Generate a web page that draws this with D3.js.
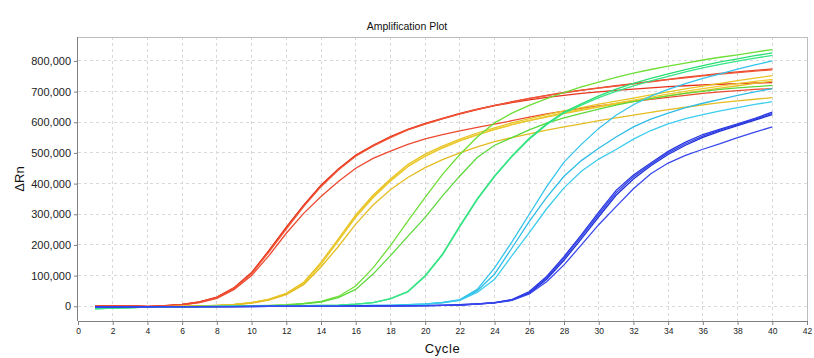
<!DOCTYPE html>
<html><head><meta charset="utf-8">
<script src="https://cdn.jsdelivr.net/npm/d3@7"></script>
<style>
html,body{margin:0;padding:0;background:#fff;}
text{font-family:"Liberation Sans",Arial,sans-serif;}
</style></head>
<body><div id="chart"></div>
<script>
// ---- data (ΔRn, thousands) ----
const cycles = d3.range(1, 41);
const xTicks = d3.range(0, 43, 2);
const yTicks = [0,100000,200000,300000,400000,500000,600000,700000,800000];
const chartTitle = "Amplification Plot";
const xLabel = "Cycle";
const yLabel = "ΔRn";

const red1 = [2,2,2,0,2,6,14,29,60,108,180,255,328,393,447,492,525,553,577,596,613,629,643,655,667,678,688,697,705,712,719,726,733,740,747,753,759,764,769,774];
const red2 = [1,2,1,0,2,6,14,30,61,110,182,258,330,395,448,492,524,552,576,595,612,627,641,654,664,673,681,688,694,699,704,708,712,716,719,722,724,726,728,729];
const red3 = [2,1,2,-1,1,5,13,28,59,106,177,252,325,390,444,489,522,550,575,594,611,627,642,654,666,677,687,696,704,711,718,725,732,739,745,751,757,762,767,771];
const red4 = [1,1,1,-1,1,5,12,26,55,100,165,238,303,358,407,450,482,506,528,546,560,572,583,594,605,617,627,636,645,653,661,668,675,681,688,694,699,703,707,710];
const yel1 = [-2,-2,-1,-2,-1,0,1,3,6,12,23,42,78,143,220,298,362,415,462,496,522,545,565,582,598,612,625,637,648,659,669,679,689,699,709,718,727,736,744,752];
const yel2 = [-2,-1,-1,-2,-1,0,1,3,6,12,22,41,76,140,216,293,357,410,456,490,517,540,560,577,592,605,617,628,639,649,659,668,677,686,695,703,711,719,727,734];
const yel3 = [-1,-2,-1,-1,-1,0,1,2,5,11,22,40,74,137,213,290,354,408,455,489,516,539,559,576,592,606,619,631,642,652,662,672,682,692,701,710,718,726,733,740];
const yel4 = [-1,-1,-1,-1,-1,0,1,2,5,10,20,38,70,128,195,268,330,380,420,452,478,500,520,537,550,562,574,585,595,605,614,623,632,641,649,657,664,670,675,680];
const grn1 = [-5,-4,-3,-2,-2,-1,0,0,1,2,3,5,9,16,32,66,125,198,278,355,430,495,552,598,630,655,677,697,715,731,746,760,772,783,793,803,812,820,829,837];
const grn2 = [-6,-5,-4,-3,-2,-1,0,0,1,1,2,4,8,14,28,55,105,165,228,290,360,425,485,525,550,575,597,614,629,643,656,667,677,686,694,701,707,712,716,720];
const tel1 = [-8,-6,-4,-3,-2,-2,-1,-1,0,0,1,1,2,3,4,7,12,25,48,100,170,262,350,425,490,548,595,633,660,686,708,727,743,758,772,785,797,807,817,826];
const tel2 = [-8,-6,-5,-3,-2,-2,-1,-1,0,0,1,1,2,3,4,7,12,24,47,98,168,260,348,423,488,545,592,630,656,680,701,719,735,750,764,777,789,799,809,818];
const cyn1 = [-3,-3,-2,-2,-2,-1,-1,0,0,0,1,1,1,2,2,2,3,3,5,8,13,22,55,125,210,300,390,470,528,580,623,657,685,707,726,743,758,773,787,800];
const cyn2 = [-3,-2,-2,-2,-1,-1,-1,0,0,0,1,1,1,2,2,2,3,3,5,7,12,20,50,105,190,277,355,424,475,515,552,585,610,630,648,662,675,688,699,710];
const cyn3 = [-4,-3,-2,-2,-2,-1,-1,0,0,0,0,1,1,1,2,2,2,3,4,7,11,19,45,88,165,240,318,386,440,480,511,545,573,595,612,625,637,648,658,667];
const blu1 = [-2,-2,-2,-1,-1,-1,-1,-1,-1,0,0,0,0,0,0,1,1,1,2,2,3,5,8,12,22,48,97,162,233,307,378,428,467,505,535,560,578,595,613,633];
const blu2 = [-2,-2,-1,-1,-1,-1,-1,-1,-1,0,0,0,0,0,0,1,1,1,2,2,3,5,8,12,21,45,93,157,227,300,370,422,463,500,530,555,575,592,610,629];
const blu3 = [-2,-2,-2,-1,-1,-1,-1,-1,-1,-1,0,0,0,0,0,0,1,1,1,2,3,4,7,11,20,42,88,150,220,292,362,415,458,495,525,551,571,589,607,625];
const blu4 = [-2,-2,-2,-2,-1,-1,-1,-1,-1,-1,0,0,0,0,0,0,1,1,1,2,3,4,7,11,19,40,80,135,200,266,325,383,432,467,492,512,530,550,568,585];

const seriesList = [red1,red2,red3,red4,yel1,yel2,yel3,yel4,grn1,grn2,tel1,tel2,cyn1,cyn2,cyn3,blu1,blu2,blu3,blu4];
const seriesColors = ["#e8402a","#e6321c","#f05838","#ec4a30","#e8c424","#e6c02a","#eccc30","#e4bc22","#6ede36","#5cd83a","#28e070","#38e488","#34c4ec","#30bce6","#3ccced","#2a38e0","#3444ea","#2030d6","#3848ee"];

// ---- drawing ----
const W = 814, H = 358;
const m = {left:78, top:37, right:7, bottom:37};
const svg = d3.select("#chart").append("svg").attr("width", W).attr("height", H);
const x = d3.scaleLinear().domain([0, 42]).range([m.left, W - m.right]);
const y = d3.scaleLinear().domain([-48000, 878000]).range([H - m.bottom, m.top]);

// grid
const g = svg.append("g");
g.selectAll("line.vg").data(xTicks.filter(d => d > 0 && d < 42)).join("line")
  .attr("x1", d => x(d)).attr("x2", d => x(d)).attr("y1", m.top).attr("y2", H - m.bottom)
  .attr("stroke", "#d9d9d9").attr("stroke-dasharray", "3,3").attr("shape-rendering","crispEdges");
g.selectAll("line.hg").data(yTicks).join("line")
  .attr("x1", m.left).attr("x2", W - m.right).attr("y1", d => y(d)).attr("y2", d => y(d))
  .attr("stroke", "#d9d9d9").attr("stroke-dasharray", "3,3").attr("shape-rendering","crispEdges");

// frame (top, right)
svg.append("path").attr("d", `M${m.left},${m.top}H${W - m.right}V${H - m.bottom}`)
  .attr("fill","none").attr("stroke","#bdbdbd").attr("shape-rendering","crispEdges");

// lines
const line = d3.line().x((d, i) => x(cycles[i])).y(d => y(d * 1000));
svg.append("g").selectAll("path").data(seriesList).join("path")
  .attr("d", d => line(d)).attr("fill","none")
  .attr("stroke", (d, i) => seriesColors[i]).attr("stroke-width", 1.3);

// axes
const xAxis = d3.axisBottom(x).tickValues(xTicks).tickSize(4).tickPadding(3).tickFormat(d3.format("d"));
const yAxis = d3.axisLeft(y).tickValues(yTicks).tickSize(4).tickPadding(3).tickFormat(d3.format(","));
const gx = svg.append("g").attr("transform", `translate(0,${H - m.bottom})`).call(xAxis);
const gy = svg.append("g").attr("transform", `translate(${m.left},0)`).call(yAxis);
gx.select(".domain").attr("stroke","#808080").attr("d", `M${m.left},0.5H${W - m.right}`);
gy.select(".domain").attr("stroke","#808080").attr("d", `M-0.5,${m.top}V${H - m.bottom}`);
gx.selectAll(".tick line").attr("stroke","#808080");
gy.selectAll(".tick line").attr("stroke","#808080");
gx.selectAll("text").attr("font-size", 8.5).attr("fill","#222").attr("font-family","Liberation Sans, Arial");
gy.selectAll("text").attr("font-size", 11).attr("fill","#222").attr("font-family","Liberation Sans, Arial");

// labels
svg.append("text").attr("x", 407).attr("y", 30).attr("text-anchor","middle")
  .attr("font-size", 10.5).attr("fill","#111").text(chartTitle);
svg.append("text").attr("x", (m.left + W - m.right) / 2).attr("y", 353).attr("text-anchor","middle")
  .attr("font-size", 13).attr("letter-spacing", 0.6).attr("fill","#111").text(xLabel);
svg.append("text").attr("transform", `translate(24,${(m.top + H - m.bottom) / 2}) rotate(-90)`)
  .attr("text-anchor","middle").attr("font-size", 13).attr("fill","#111").text(yLabel);
</script></body></html>
